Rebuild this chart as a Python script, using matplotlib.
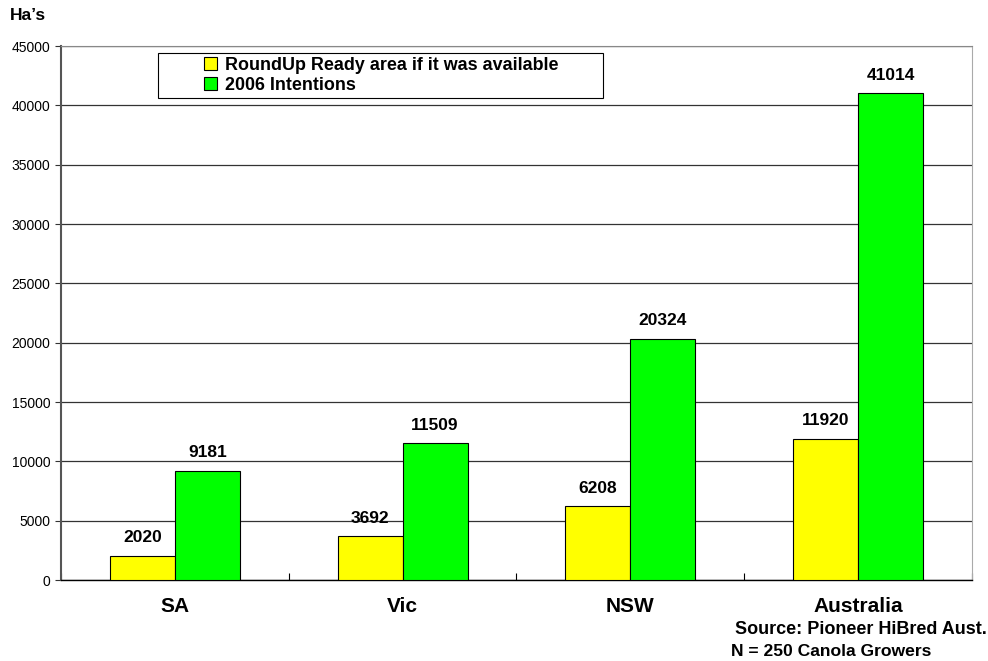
import numpy as np
import matplotlib
matplotlib.use("Agg")
import matplotlib.pyplot as plt
from matplotlib.patches import Rectangle

plt.rcParams['font.family'] = ['Liberation Sans', 'DejaVu Sans']

regions = ["SA", "Vic", "NSW", "Australia"]
roundup = [2020, 3692, 6208, 11920]
intentions = [9181, 11509, 20324, 41014]
series_names = ["RoundUp Ready area if it was available", "2006 Intentions"]

fig = plt.figure(figsize=(9.88, 6.61), dpi=100)
ax = fig.add_axes([0.0617, 0.1225, 0.9221, 0.8079])

x = np.arange(len(regions))
w = 0.285
b1 = ax.bar(x - w / 2, roundup, w, color="#ffff00", edgecolor="black", linewidth=0.8,
            label=series_names[0], zorder=3)
b2 = ax.bar(x + w / 2, intentions, w, color="#00ff00", edgecolor="black", linewidth=0.8,
            label=series_names[1], zorder=3)

for bars, vals in ((b1, roundup), (b2, intentions)):
    for r, v in zip(bars, vals):
        ax.text(r.get_x() + r.get_width() / 2, v + 900, str(v), ha="center", va="bottom",
                fontsize=12.5, fontweight="bold")

ax.set_xlim(-0.5, 3.5)
ax.set_ylim(0, 45000)
ax.set_yticks(np.arange(0, 45001, 5000))
ax.tick_params(axis="y", labelsize=10, length=4, width=0.8, direction="out", colors="#333333",
               labelcolor="black")
ax.set_xticks(x)
ax.set_xticklabels(regions, fontsize=15, fontweight="bold")
ax.set_xticks(np.arange(-0.5, 3.6, 1), minor=True)
ax.tick_params(axis="x", which="major", length=0, pad=12)
ax.tick_params(axis="x", which="minor", length=5, width=0.8, direction="in")
ax.yaxis.grid(True, color="#333333", linewidth=0.9, zorder=0)
ax.set_axisbelow(True)

ax.spines["left"].set_color("#555555")
ax.spines["left"].set_linewidth(1.5)
ax.spines["bottom"].set_color("black")
ax.spines["bottom"].set_linewidth(1.0)
ax.spines["top"].set_color("#888888")
ax.spines["right"].set_color("#aaaaaa")

# legend box (wide frame, entries indented as in the reference)
ax.add_patch(Rectangle((0.106, 0.903), 0.489, 0.084, transform=ax.transAxes,
                       facecolor="white", edgecolor="black", linewidth=0.8, zorder=5))
leg = ax.legend(loc="center left", bbox_to_anchor=(0.157, 0.945), frameon=False,
                prop={"weight": "bold", "size": 12.9}, handlelength=0.75, handleheight=0.75,
                handletextpad=0.4, borderpad=0, labelspacing=0.15, borderaxespad=0)
leg.set_zorder(6)

fig.text(10 / 988, 1 - 15 / 661, "Ha’s", fontsize=12.5, fontweight="bold", va="center", ha="left")
fig.text(987 / 988, 1 - 630 / 661, "Source: Pioneer HiBred Aust.", fontsize=13, fontweight="bold",
         ha="right", va="center")
fig.text(731 / 988, 1 - 651 / 661, "N = 250 Canola Growers", fontsize=12.6, fontweight="bold",
         ha="left", va="center")

fig.savefig("out.png", dpi=100)
